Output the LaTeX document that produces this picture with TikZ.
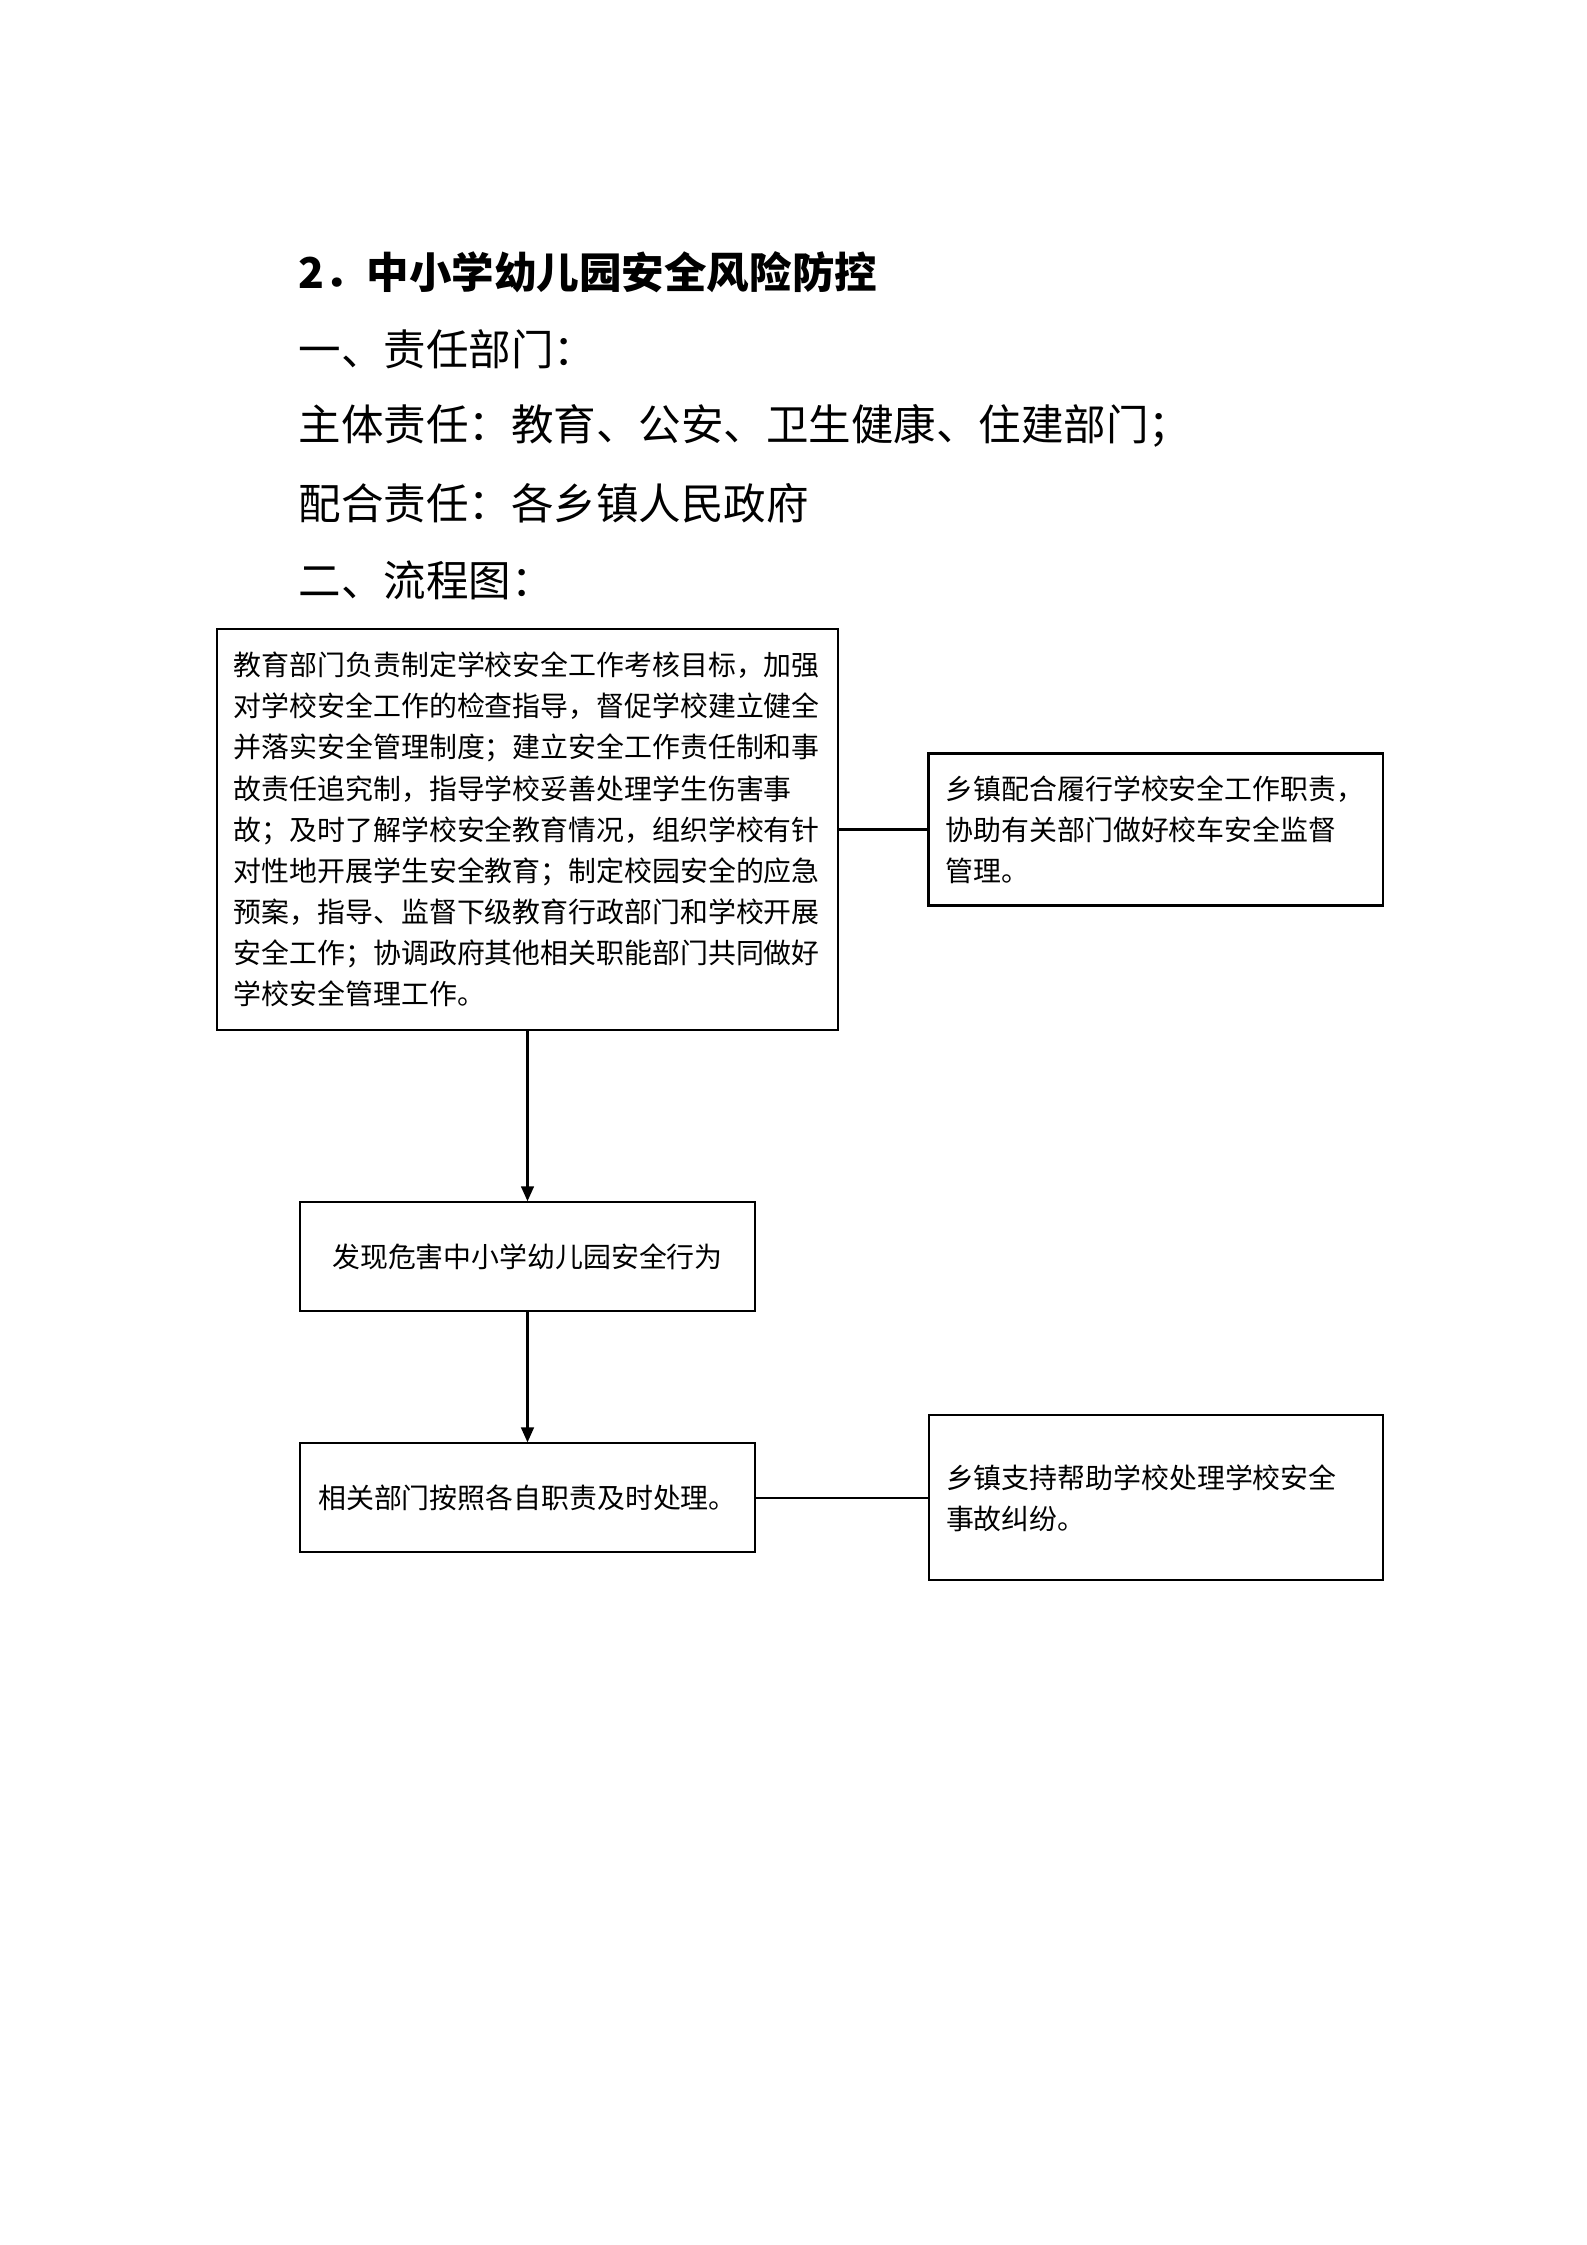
\documentclass[tikz,border=0pt]{standalone}
\usepackage{fontspec}
\setmainfont{Noto Sans CJK SC}
\usepackage{tikz}
\usetikzlibrary{arrows, arrows.meta, positioning}

\begin{document}
\begin{tikzpicture}[
    x=0.0132325cm, y=-0.0132325cm,
    node distance=1cm,
    heading/.style={anchor=west, inner sep=0pt, font=\fontsize{16pt}{20pt}\selectfont},
    duty/.style={rectangle, draw=black, line width=0.8pt, align=left, inner xsep=6.5pt, font=\fontsize{10.5pt}{15.5pt}\selectfont},
    flow/.style={duty, align=center, text width=158pt, minimum height=1.442cm}
]
    \useasboundingbox (0,0) rectangle (1587,2245);

    % headings above the chart
    \node (title) [heading, font=\fontsize{16pt}{20pt}\selectfont\bfseries] at (298,272) {2．中小学幼儿园安全风险防控};
    \node (dept)  [heading] at (298,349) {一、责任部门：};
    \node (main-duty) [heading] at (298,426) {主体责任：教育、公安、卫生健康、住建部门；};
    \node (co-duty)   [heading] at (298,503) {配合责任：各乡镇人民政府};
    \node (chart) [heading] at (298,580) {二、流程图：};

    % flow chart
    \node (edu) [duty, text width=221pt, minimum height=5.306cm] at (527.5,829.5) {教育部门负责制定学校安全工作考核目标，加强\\对学校安全工作的检查指导，督促学校建立健全\\并落实安全管理制度；建立安全工作责任制和事\\故责任追究制，指导学校妥善处理学生伤害事\\故；及时了解学校安全教育情况，组织学校有针\\对性地开展学生安全教育；制定校园安全的应急\\预案，指导、监督下级教育行政部门和学校开展\\安全工作；协调政府其他相关职能部门共同做好\\学校安全管理工作。};
    \node (town1) [duty, text width=158pt, minimum height=2.011cm, right=1.165cm of edu] {乡镇配合履行学校安全工作职责，\\协助有关部门做好校车安全监督\\管理。};
    \node (find) [flow, below=2.25cm of edu] {发现危害中小学幼儿园安全行为};
    \node (handle) [flow, below=1.72cm of find] {相关部门按照各自职责及时处理。};
    \node (town2) [duty, text width=158pt, minimum height=2.183cm, right=2.276cm of handle] {乡镇支持帮助学校处理学校安全\\事故纠纷。\\[6pt]};

    \draw[->, >={Triangle[length=5.6pt,width=4.8pt]}, line width=0.8pt] (edu) -- (find);
    \draw[->, >={Triangle[length=5.6pt,width=4.8pt]}, line width=0.8pt] (find) -- (handle);
    \draw[line width=0.8pt] (edu) -- (town1);
    \draw[line width=0.8pt] (handle) -- (town2);
\end{tikzpicture}
\end{document}
